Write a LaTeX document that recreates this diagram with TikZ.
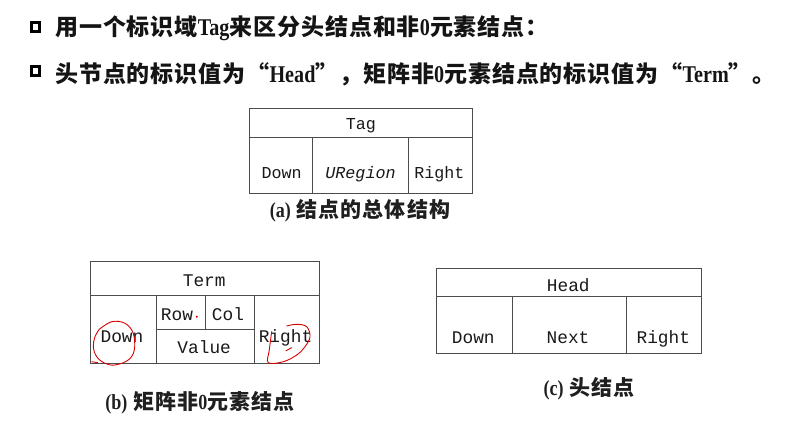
\documentclass[tikz,border=0pt]{standalone}
\usepackage{fontspec}
\setmainfont{Liberation Serif}
\newfontfamily\cjkH[LetterSpace=4]{Noto Sans CJK SC}
\newfontfamily\cjkC[LetterSpace=5]{Noto Sans CJK SC}
\newfontfamily\latB[FakeStretch=0.84,UprightFont=* Bold,BoldFont=* Bold]{Liberation Serif}
\newfontfamily\monoT{Liberation Mono}
\newcommand{\hlat}[1]{{\latB\fontsize{24}{24}\selectfont #1}}
\newcommand{\clat}[1]{{\latB\fontsize{21.5}{21}\selectfont #1}}
\begin{document}
\begin{tikzpicture}[x=1pt,y=-1pt]
\tikzset{
 cell/.style={draw=black!70, line width=0.8pt, rectangle, inner sep=0pt},
 ta/.style={font=\monoT\fontsize{16.7}{17}\selectfont, text=black!90, inner sep=0pt, anchor=base},
 tb/.style={font=\monoT\fontsize{17.8}{18}\selectfont, text=black!90, inner sep=0pt, anchor=base},
 headline/.style={anchor=base west, inner sep=0pt, text=black!92, font=\cjkH\bfseries\fontsize{23}{23}\selectfont},
 bulletbox/.style={draw=black, line width=3pt, minimum size=8.5pt, inner sep=0pt},
 captext/.style={anchor=base, inner sep=0pt, text=black!88, font=\cjkC\bfseries\fontsize{21}{21}\selectfont},
 redpen/.style={draw=red!85!black, line width=0.9pt, line cap=round, line join=round}
}
\useasboundingbox (0,0) rectangle (800,424);
% header
\node[bulletbox] (bul1) at (35.5,27) {};
\node[bulletbox] (bul2) at (35.5,71) {};
\node[headline] (line1) at (55,35.5) {用一个标识域\hlat{Tag}来区分头结点和非\hlat{0}元素结点：};
\node[headline] (line2) at (55,82) {头节点的标识值为“\hlat{Head}”，矩阵非\hlat{0}元素结点的标识值为“\hlat{Term}”。};
% (a)
\node[cell, minimum width=222.5pt, minimum height=29pt] (aTag) at (360.75,122.5) {};
\node[cell, minimum width=63.2pt, minimum height=56pt] (aDown) at (281.1,165) {};
\node[cell, minimum width=95.6pt, minimum height=56pt] (aUR) at (360.5,165) {};
\node[cell, minimum width=63.7pt, minimum height=56pt] (aRight) at (440.15,165) {};
\node[ta] (aTagT) at (360.8,129.5) {Tag};
\node[ta] (aDownT) at (281.7,178) {Down};
\node[ta] (aURT) at (360.5,178) {\itshape URegion};
\node[ta] (aRightT) at (439.3,178) {Right};
\node[captext] (capA) at (360,217) {\clat{(a)} 结点的总体结构};
% (b)
\node[cell, minimum width=228.6pt, minimum height=34pt] (bTerm) at (205,278.7) {};
\node[cell, minimum width=65.3pt, minimum height=67.6pt] (bDown) at (123.35,329.5) {};
\node[cell, minimum width=49pt, minimum height=33.3pt] (bRow) at (180.5,312.35) {};
\node[cell, minimum width=49pt, minimum height=33.3pt] (bCol) at (229.5,312.35) {};
\node[cell, minimum width=98pt, minimum height=34.3pt] (bValue) at (205,346.15) {};
\node[cell, minimum width=65.3pt, minimum height=67.6pt] (bRight) at (286.65,329.5) {};
\node[tb] (bTermT) at (204.2,286.5) {Term};
\node[tb] (bDownT) at (122,342) {Down};
\node[tb] (bRowT) at (177,320) {Row};
\node[tb] (bColT) at (228,320) {Col};
\node[tb] (bValueT) at (204.2,353) {Value};
\node[tb] (bRightT) at (285.5,342) {Right};
\node[captext] (capB) at (200,409) {\clat{(b)} 矩阵非\clat{0}元素结点};
% (c)
\node[cell, minimum width=265pt, minimum height=28.4pt] (cHead) at (569.2,282.5) {};
\node[cell, minimum width=76pt, minimum height=56.6pt] (cDown) at (474.7,325) {};
\node[cell, minimum width=113.3pt, minimum height=56.6pt] (cNext) at (569.35,325) {};
\node[cell, minimum width=75.7pt, minimum height=56.6pt] (cRight) at (663.85,325) {};
\node[tb] (cHeadT) at (568.3,291.5) {Head};
\node[tb] (cDownT) at (473.3,343) {Down};
\node[tb] (cNextT) at (568,343) {Next};
\node[tb] (cRightT) at (663.3,343) {Right};
\node[captext] (capC) at (589,395.5) {\clat{(c)} 头结点};
% red handwritten marks
\draw[redpen] plot[smooth, tension=0.6] coordinates {(99,329.5) (111.7,321.7) (125,323.3) (133.3,333.3) (134.3,350) (128.3,360) (115,365) (105,363.3) (96.7,356.7) (93.3,346.7) (95,336.7) (99.5,329)};
\draw[redpen] (91.7,361.7) -- (97.7,362.7);
\draw[redpen] plot[smooth, tension=0.6] coordinates {(271.7,331.7) (269.3,350) (268.3,362.7) (283.3,361.7) (296.7,355) (305,346.7) (310,336.7) (306.7,326.7) (296.7,324.3) (286.7,326)};
\draw[redpen] (286,350.7) -- (291.7,347.7);
\fill[red!85!black] (196.7,316.7) circle (1.1);
\end{tikzpicture}
\end{document}
